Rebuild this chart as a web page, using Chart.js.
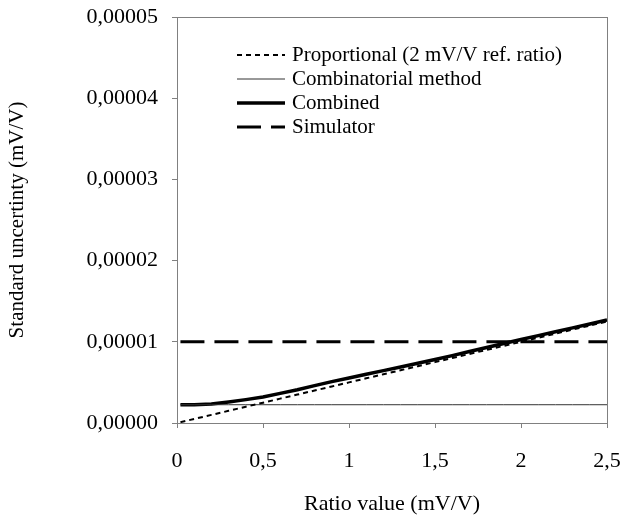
<!DOCTYPE html>
<html>
<head>
<meta charset="utf-8">
<script src="https://cdn.jsdelivr.net/npm/chart.js@4"></script>
<style>
  body { margin: 0; background: #fff; }
  canvas { display: block; }
</style>
</head>
<body>
<canvas id="chart" width="635" height="515"></canvas>
<script>
// ratio value (mV/V)
const ratio = [0.02, 0.1, 0.2, 0.3, 0.4, 0.5, 0.6, 0.7, 0.8, 0.9, 1.0, 1.1, 1.2,
  1.3, 1.4, 1.5, 1.6, 1.7, 1.8, 1.9, 2.0, 2.1, 2.2, 2.3, 2.4, 2.5];

// standard uncertainty (mV/V)
const proportional = [0.10e-6, 0.50e-6, 1.00e-6, 1.50e-6, 2.00e-6, 2.50e-6, 3.00e-6,
  3.50e-6, 4.00e-6, 4.50e-6, 5.00e-6, 5.50e-6, 6.00e-6, 6.50e-6, 7.00e-6, 7.50e-6,
  8.00e-6, 8.50e-6, 9.00e-6, 9.50e-6, 10.00e-6, 10.50e-6, 11.00e-6, 11.50e-6,
  12.00e-6, 12.50e-6];
const combinatorial = [2.25e-6, 2.25e-6, 2.25e-6, 2.25e-6, 2.25e-6, 2.25e-6, 2.25e-6,
  2.25e-6, 2.25e-6, 2.25e-6, 2.25e-6, 2.25e-6, 2.25e-6, 2.25e-6, 2.25e-6, 2.25e-6,
  2.25e-6, 2.25e-6, 2.25e-6, 2.25e-6, 2.25e-6, 2.25e-6, 2.25e-6, 2.25e-6, 2.25e-6,
  2.25e-6];
const combined = [2.25e-6, 2.25e-6, 2.35e-6, 2.60e-6, 2.88e-6, 3.20e-6, 3.65e-6,
  4.10e-6, 4.60e-6, 5.10e-6, 5.55e-6, 6.00e-6, 6.45e-6, 6.90e-6, 7.35e-6, 7.83e-6,
  8.30e-6, 8.80e-6, 9.30e-6, 9.80e-6, 10.28e-6, 10.76e-6, 11.24e-6, 11.72e-6,
  12.20e-6, 12.70e-6];
const simulator = [10e-6, 10e-6, 10e-6, 10e-6, 10e-6, 10e-6, 10e-6, 10e-6, 10e-6,
  10e-6, 10e-6, 10e-6, 10e-6, 10e-6, 10e-6, 10e-6, 10e-6, 10e-6, 10e-6, 10e-6,
  10e-6, 10e-6, 10e-6, 10e-6, 10e-6, 10e-6];

const seriesNames = ["Proportional (2 mV/V ref. ratio)", "Combinatorial method", "Combined", "Simulator"];

const FONT = "'Liberation Serif', 'Times New Roman', serif";
const comma = (v, d) => Number(v).toFixed(d).replace(".", ",");
const pts = ys => ratio.map((x, i) => ({ x: x, y: ys[i] }));

// fixed axis box, no extra room reserved for the end labels
const fixBox = (s, w, h) => {
  if (w) s.width = w;
  if (h) s.height = h;
  s.paddingTop = s.paddingBottom = s.paddingLeft = s.paddingRight = 0;
};

// box around the plot area
const frame = {
  id: "frame",
  beforeDatasetsDraw(chart) {
    const { ctx, chartArea: a } = chart;
    ctx.save();
    ctx.strokeStyle = "#808080";
    ctx.lineWidth = 1;
    ctx.strokeRect(a.left + 0.5, a.top + 0.5, a.right - a.left, a.bottom - a.top);
    ctx.restore();
  }
};

// legend drawn inside the plot, top left
const insideLegend = {
  id: "insideLegend",
  afterDatasetsDraw(chart) {
    const { ctx, chartArea: a } = chart;
    const x0 = a.left + 60, x1 = a.left + 108, tx = a.left + 115;
    let y = a.top + 38;
    ctx.save();
    ctx.font = "21px " + FONT;
    ctx.textBaseline = "middle";
    ctx.fillStyle = "#000";
    chart.data.datasets.forEach(ds => {
      ctx.beginPath();
      ctx.setLineDash(ds.borderDash || []);
      ctx.lineWidth = ds.borderWidth;
      ctx.strokeStyle = ds.borderColor;
      ctx.moveTo(x0, y);
      ctx.lineTo(x1, y);
      ctx.stroke();
      ctx.setLineDash([]);
      ctx.fillText(ds.label, tx, y);
      y += 24;
    });
    ctx.restore();
  }
};

new Chart(document.getElementById("chart"), {
  type: "line",
  data: {
    datasets: [
      { label: seriesNames[0], data: pts(proportional), borderColor: "#000", borderWidth: 2, borderDash: [5, 4] },
      { label: seriesNames[1], data: pts(combinatorial), borderColor: "#333", borderWidth: 1 },
      { label: seriesNames[2], data: pts(combined), borderColor: "#000", borderWidth: 3.5 },
      { label: seriesNames[3], data: pts(simulator), borderColor: "#000", borderWidth: 3, borderDash: [24, 10] }
    ]
  },
  options: {
    responsive: false,
    animation: false,
    layout: { padding: { top: 17, right: 28, left: 0, bottom: 0 } },
    elements: { point: { radius: 0 }, line: { tension: 0, borderCapStyle: "butt" } },
    plugins: { legend: { display: false }, tooltip: { enabled: false } },
    scales: {
      x: {
        type: "linear",
        min: 0,
        max: 2.5,
        afterFit: s => fixBox(s, 0, 92),
        ticks: {
          stepSize: 0.5,
          padding: 20,
          color: "#000",
          font: { family: FONT, size: 22 },
          callback: v => comma(v, v % 1 === 0 ? 0 : 1)
        },
        grid: { drawOnChartArea: false, tickLength: 5, color: "#808080" },
        border: { color: "#808080" },
        title: {
          display: true,
          text: "Ratio value (mV/V)",
          color: "#000",
          font: { family: FONT, size: 22, lineHeight: 1 },
          padding: { top: 0, bottom: 0 }
        }
      },
      y: {
        min: 0,
        max: 0.00005,
        afterFit: s => fixBox(s, 177, 0),
        ticks: {
          stepSize: 0.00001,
          padding: 14,
          color: "#000",
          font: { family: FONT, size: 22 },
          callback: v => comma(v, 5)
        },
        grid: { drawOnChartArea: false, tickLength: 5, color: "#808080" },
        border: { color: "#808080" },
        title: {
          display: true,
          text: "Standard uncertinty (mV/V)",
          color: "#000",
          font: { family: FONT, size: 21, lineHeight: 1 },
          padding: { top: 7, bottom: 0 }
        }
      }
    }
  },
  plugins: [frame, insideLegend]
});
</script>
</body>
</html>
